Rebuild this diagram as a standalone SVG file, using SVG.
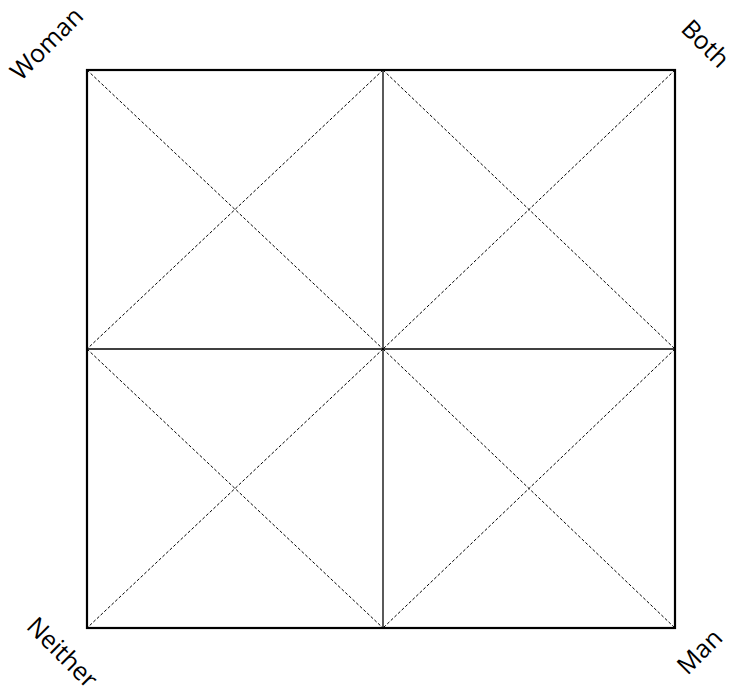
<svg xmlns="http://www.w3.org/2000/svg" width="737" height="694" viewBox="0 0 737 694">
<style>
.lbl{font-family:"Open Sans","Noto Sans",sans-serif;font-size:25px;fill:#000;text-anchor:middle;dominant-baseline:middle}
.d{stroke:#000;stroke-width:1;stroke-dasharray:3,2;fill:none}
.s{stroke:#000;stroke-width:1.3;fill:none}
</style>
<rect width="737" height="694" fill="#fff"/>
<g id="connectors">
<line class="s" x1="383" y1="70" x2="383" y2="628"/>
<line class="s" x1="87" y1="349" x2="675" y2="349"/>
<line class="d" x1="87" y1="70" x2="383" y2="349"/>
<line class="d" x1="383" y1="70" x2="87" y2="349"/>
<line class="d" x1="383" y1="70" x2="675" y2="349"/>
<line class="d" x1="675" y1="70" x2="383" y2="349"/>
<line class="d" x1="87" y1="349" x2="383" y2="628"/>
<line class="d" x1="383" y1="349" x2="87" y2="628"/>
<line class="d" x1="383" y1="349" x2="675" y2="628"/>
<line class="d" x1="675" y1="349" x2="383" y2="628"/>
</g>
<g id="frame"><rect x="87" y="70" width="588" height="558" fill="none" stroke="#000" stroke-width="2.2"/></g>
<g id="woman"><text class="lbl" transform="translate(48,45) rotate(-45)">Woman</text></g>
<g id="both"><text class="lbl" transform="translate(704,45) rotate(45)">Both</text></g>
<g id="neither"><text class="lbl" transform="translate(61,654) rotate(45)">Neither</text></g>
<g id="man"><text class="lbl" transform="translate(701,653) rotate(-45)">Man</text></g>
</svg>
